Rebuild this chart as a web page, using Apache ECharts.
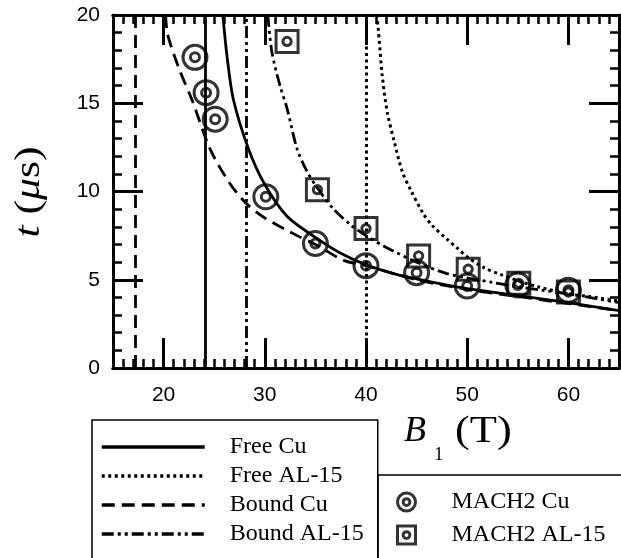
<!doctype html>
<html><head><meta charset="utf-8" />
<style>html,body,#app{margin:0;padding:0;width:621px;height:558px;background:#fff}</style>
</head><body><div id="app"></div>
<script src="https://cdn.jsdelivr.net/npm/echarts@6/dist/echarts.min.js"></script>
<script>
// curves: [B1 (T), t (us)]
const freeCu = [[25.85,20],[26.3,17.5],[26.9,15.2],[28.4,12.4],[30,10.4],[32.2,8.6],[35,7.4],[37.5,6.5],[40,5.85],[43,5.3],[45,5.05],[48,4.7],[50,4.5],[55,4.1],[60,3.7],[65,3.25]];
const freeAl = [[41.05,20],[41.2,19.3],[41.6,16.6],[42.1,14.5],[42.8,12.8],[43.6,11.1],[44.4,10.1],[45.6,8.8],[46.5,8.1],[48,7.3],[49,6.8],[50,6.3],[51.6,5.7],[53.3,5.3],[55,4.95],[57,4.6],[60,4.2],[62,4.05],[65,3.8]];
const boundCu = [[20.2,20],[20.4,18.9],[21.5,17],[22.8,15.2],[24.6,12.4],[26.5,10.5],[28.2,9.3],[30,8.5],[33.2,7.5],[35,7.0],[37.8,6.1],[40,5.8],[45,5.0],[50,4.45],[55,4.05],[60,3.65],[65,3.25]];
const boundAl = [[30.3,20],[30.7,17.9],[31.5,16],[32.2,14.7],[33.2,12.4],[34.2,11.1],[35.2,10.2],[36.8,9.0],[38.5,8.1],[40,7.5],[42.1,6.8],[45,6.0],[47.7,5.4],[50,5.1],[52.5,4.85],[55,4.6],[57.5,4.4],[60,4.2],[65,3.7]];
// vertical limit lines (B1 values)
const limitFreeCu = 24.1;
const limitFreeAl = 40.0;
const limitBoundCu = 17.2;
const limitBoundAl = 28.2;
// MACH2 points
const mach2Cu = [[23.1,17.6],[24.2,15.6],[25.1,14.1],[30.1,9.7],[35,7.05],[40,5.8],[45,5.4],[50,4.65],[55,4.7],[60,4.4]];
const mach2Al = [[32.2,18.5],[35.2,10.1],[40,7.9],[45.2,6.35],[50.1,5.6],[55.1,4.8],[60,4.3]];
// axes
const xMajor = [20, 30, 40, 50, 60];
const xRange = [15, 65];
const yRange = [0, 20];

const ringPath = 'path://M24 12A12 12 0 1 1 0 12A12 12 0 1 1 24 12ZM16.5 12A4.5 4.5 0 1 1 7.5 12A4.5 4.5 0 1 1 16.5 12Z';
const boxPath = 'path://M0 0L24 0L24 24L0 24ZM16.5 12A4.5 4.5 0 1 1 7.5 12A4.5 4.5 0 1 1 16.5 12Z';

const serif = 'Liberation Serif';
const sans = 'Liberation Sans';
const styles = {
  solid: { type: 'solid', width: 2.8 },
  dotted: { type: [3, 3.5], width: 3 },
  dashed: { type: [13, 7], width: 2.8 },
  dashdotdot: { type: [12, 4, 3, 4, 3, 4], width: 2.8 }
};

function curve(name, data, limit, st) {
  const ls = Object.assign({ color: '#000' }, st);
  return {
    name, type: 'line', data, symbol: 'none', smooth: 0.3,
    lineStyle: ls, itemStyle: { color: '#000' },
    markLine: { silent: true, symbol: ['none', 'none'], label: { show: false }, lineStyle: ls, data: [{ xAxis: limit }] }
  };
}

const el = document.getElementById('app');
const chart = echarts.init(el);
const frameLine = { show: true, onZero: false, lineStyle: { color: '#000', width: 3 } };
function xAx(pos, major) {
  return {
    type: 'value', position: pos, min: xRange[0], max: xRange[1],
    interval: major ? undefined : 1,
    axisLine: frameLine,
    axisTick: major ? { inside: true, length: 30, lineStyle: { color: '#000', width: 3 }, customValues: xMajor }
                    : { inside: true, length: 9, lineStyle: { color: '#000', width: 2.5 } },
    axisLabel: (major && pos === 'bottom') ? { customValues: xMajor, color: '#000', fontFamily: sans, fontSize: 21, margin: 17 } : { show: false },
    splitLine: { show: false }
  };
}
function yAx(pos) {
  return {
    type: 'value', position: pos, min: yRange[0], max: yRange[1], interval: 5,
    axisLine: frameLine,
    axisTick: { inside: true, length: 30, lineStyle: { color: '#000', width: 3 } },
    minorTick: { show: true, splitNumber: 5, length: 9, lineStyle: { color: '#000', width: 2.5 } },
    axisLabel: pos === 'left' ? { color: '#000', fontFamily: sans, fontSize: 21, margin: 13 } : { show: false },
    splitLine: { show: false }
  };
}

const legendText = { fontFamily: serif, fontSize: 24, color: '#000', lineHeight: 28 };
const option = {
  animation: false,
  backgroundColor: '#fff',
  grid: { left: 113, right: 2, top: 15, bottom: 190 },
  xAxis: [xAx('bottom', false), xAx('bottom', true), xAx('top', false), xAx('top', true)],
  yAxis: [yAx('left'), yAx('right')],
  legend: [
    {
      data: ['Free Cu', 'Free AL-15', 'Bound Cu', 'Bound AL-15'],
      orient: 'vertical', left: 92, top: 420, height: 300, itemWidth: 103, itemHeight: 14, itemGap: 1,
      padding: [13, 14, 30, 8], borderColor: '#000', borderWidth: 1.5, selectedMode: false,
      lineStyle: { width: 3.5 }, itemStyle: { opacity: 0 },
      textStyle: Object.assign({ padding: [0, 0, 0, 20] }, legendText)
    },
    {
      data: ['MACH2 Cu', 'MACH2 AL-15'],
      orient: 'vertical', left: 378, top: 475, height: 300, itemWidth: 18, itemHeight: 18, itemGap: 5,
      padding: [13, 80, 30, 18], borderColor: '#000', borderWidth: 1.5, selectedMode: false,
      itemStyle: { borderWidth: 3 },
      textStyle: Object.assign({ padding: [0, 0, 0, 31] }, legendText)
    }
  ],
  graphic: [
    { type: 'text', x: 30, y: 192, rotation: Math.PI / 2, scaleX: 1.25,
      style: { text: '{i|t} ({i|\u03bc}s)', fontFamily: serif, fontSize: 35, fill: '#000', align: 'center', verticalAlign: 'middle',
        rich: { i: { fontFamily: serif, fontSize: 35, fontStyle: 'italic' } } } },
    { type: 'text', x: 404, y: 432, style: { text: 'B', fontFamily: serif, fontSize: 36, fontStyle: 'italic', fill: '#000', verticalAlign: 'middle' } },
    { type: 'text', x: 434, y: 455, style: { text: '1', fontFamily: serif, fontSize: 19, fill: '#000', verticalAlign: 'middle' } },
    { type: 'text', x: 455, y: 432, scaleX: 1.2, style: { text: '(T)', fontFamily: serif, fontSize: 37, fill: '#000', verticalAlign: 'middle' } }
  ],
  series: [
    curve('Free Cu', freeCu, limitFreeCu, styles.solid),
    curve('Free AL-15', freeAl, limitFreeAl, styles.dotted),
    curve('Bound Cu', boundCu, limitBoundCu, styles.dashed),
    curve('Bound AL-15', boundAl, limitBoundAl, styles.dashdotdot),
    { name: 'MACH2 Cu', type: 'scatter', data: mach2Cu, symbol: ringPath, symbolSize: 24,
      itemStyle: { color: 'rgba(0,0,0,0)', borderColor: '#000', borderWidth: 3 } },
    { name: 'MACH2 AL-15', type: 'scatter', data: mach2Al, symbol: boxPath, symbolSize: 22,
      itemStyle: { color: 'rgba(0,0,0,0)', borderColor: '#000', borderWidth: 3 } }
  ]
};
chart.setOption(option);
</script></body></html>
